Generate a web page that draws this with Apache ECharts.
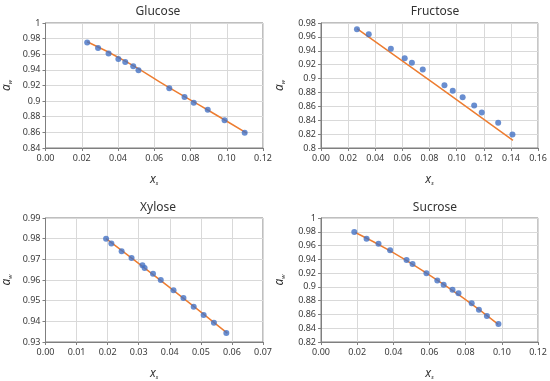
<!DOCTYPE html>
<html>
<head>
<meta charset="utf-8">
<script src="https://cdn.jsdelivr.net/npm/echarts@6/dist/echarts.min.js"></script>
<style>
  html, body { margin: 0; padding: 0; background: #fff; }
  #chart { width: 550px; height: 381px; }
</style>
</head>
<body>
<div id="chart"></div>
<script>
// measured points [x_s, a_w]
const glucosePts = [[0.0230,0.975],[0.0290,0.968],[0.0348,0.961],[0.0402,0.954],[0.0440,0.950],[0.0484,0.9445],[0.0513,0.9394],[0.0683,0.9164],[0.0767,0.9053],[0.0818,0.898],[0.0895,0.889],[0.0988,0.8754],[0.1099,0.8596]]
const fructosePts = [[0.0265,0.971],[0.0352,0.9638],[0.0515,0.9428],[0.0617,0.9294],[0.0670,0.9227],[0.0750,0.9132],[0.0910,0.8902],[0.0971,0.8826],[0.1044,0.8731],[0.1129,0.8611],[0.1185,0.8511],[0.1306,0.8363],[0.1411,0.8196]]
const xylosePts = [[0.0195,0.980],[0.0212,0.9777],[0.0245,0.9739],[0.0277,0.9707],[0.0312,0.9671],[0.0319,0.9658],[0.0346,0.963],[0.0371,0.960],[0.0412,0.9551],[0.0444,0.9513],[0.0477,0.9471],[0.0509,0.9431],[0.0542,0.9393],[0.0582,0.9343]]
const sucrosePts = [[0.0184,0.9795],[0.0252,0.970],[0.0318,0.9628],[0.0382,0.9532],[0.0473,0.9389],[0.0506,0.9332],[0.0583,0.9198],[0.0643,0.9093],[0.0678,0.9031],[0.0727,0.8959],[0.0760,0.8907],[0.0833,0.8763],[0.0873,0.8668],[0.0917,0.8577],[0.0981,0.8463]]

// fitted curves
const glucoseFit = [[0.023,0.976],[0.045,0.950],[0.068,0.9175],[0.090,0.888],[0.111,0.859]]
const fructoseFit = [[0.0265,0.9718],[0.085,0.8905],[0.1415,0.811]]
const xyloseFit = [[0.0195,0.9800],[0.039,0.9575],[0.0585,0.9343]]
const sucroseFit = [[0.019,0.979],[0.038,0.9525],[0.058,0.9205],[0.078,0.885],[0.098,0.8455]]

const names = ['Glucose', 'Fructose', 'Xylose', 'Sucrose']
const xMax = [0.12, 0.16, 0.07, 0.12]
const xStep = [0.02, 0.02, 0.01, 0.02]
const yMin = [0.84, 0.80, 0.93, 0.82]
const yMax = [1.00, 0.98, 0.99, 1.00]
const yStep = [0.02, 0.02, 0.01, 0.02]
const points = [glucosePts, fructosePts, xylosePts, sucrosePts]
const fits = [glucoseFit, fructoseFit, xyloseFit, sucroseFit]

const grids = [
  {left: 43, top: 23, width: 220, height: 125},
  {left: 321, top: 23, width: 218, height: 125},
  {left: 43, top: 218, width: 220, height: 126},
  {left: 321, top: 218, width: 218, height: 126}
]
const titleTop = [1, 1, 197, 197]

const labelColor = '#3a3a3a'
const font = 'Noto Sans'

const chart = echarts.init(document.getElementById('chart'), null, {renderer: 'canvas'})

const option = {
  animation: false,
  backgroundColor: '#fff',
  title: names.map((n, i) => ({
    text: n,
    left: grids[i].left + grids[i].width / 2,
    top: titleTop[i],
    textAlign: 'center',
    textStyle: {fontFamily: font, fontSize: 12, fontWeight: 'normal', color: '#333'}
  })),
  grid: grids.map(g => ({...g, show: true, borderColor: '#7f7f7f', borderWidth: 1, containLabel: false})),
  xAxis: names.map((n, i) => ({
    type: 'value',
    gridIndex: i,
    min: 0, max: xMax[i], interval: xStep[i],
    name: '{i|x}{s|s}',
    nameLocation: 'middle',
    nameGap: 25,
    nameTextStyle: {
      rich: {
        i: {fontFamily: font, fontStyle: 'italic', fontSize: 12, color: '#333'},
        s: {fontFamily: font, fontStyle: 'italic', fontSize: 6, color: '#333', verticalAlign: 'bottom', padding: [7, 0, 0, 0]}
      }
    },
    axisLine: {show: true, lineStyle: {color: '#7f7f7f'}},
    axisTick: {show: true, inside: false, length: 3, lineStyle: {color: '#7f7f7f'}},
    axisLabel: {fontFamily: font, fontSize: 9, color: labelColor, margin: 6, formatter: v => v.toFixed(2)},
    splitLine: {show: true, lineStyle: {color: '#d9d9d9'}}
  })),
  yAxis: names.map((n, i) => ({
    type: 'value',
    gridIndex: i,
    min: yMin[i], max: yMax[i], interval: yStep[i],
    name: '{i|a}{s|w}',
    nameLocation: 'middle',
    nameGap: i % 2 === 0 ? 32 : 35,
    nameTextStyle: {
      rich: {
        i: {fontFamily: font, fontStyle: 'italic', fontSize: 12, color: '#333'},
        s: {fontFamily: font, fontStyle: 'italic', fontSize: 6, color: '#333', verticalAlign: 'bottom', padding: [7, 0, 0, 0]}
      }
    },
    axisLine: {show: true, lineStyle: {color: '#7f7f7f'}},
    axisTick: {show: true, length: 3, lineStyle: {color: '#7f7f7f'}},
    axisLabel: {fontFamily: font, fontSize: 9, color: labelColor, margin: 5, formatter: v => String(parseFloat(v.toFixed(3)))},
    splitLine: {show: true, lineStyle: {color: '#d9d9d9'}}
  })),
  series: [].concat(
    fits.map((d, i) => ({
      type: 'line', xAxisIndex: i, yAxisIndex: i, data: d,
      smooth: true, showSymbol: false, symbol: 'none',
      lineStyle: {color: '#ED7D31', width: 1.5}, z: 2
    })),
    points.map((d, i) => ({
      type: 'scatter', xAxisIndex: i, yAxisIndex: i, data: d,
      symbol: 'circle', symbolSize: 6,
      itemStyle: {color: '#4472C4'}, z: 3
    }))
  )
}

chart.setOption(option)
</script>
</body>
</html>
